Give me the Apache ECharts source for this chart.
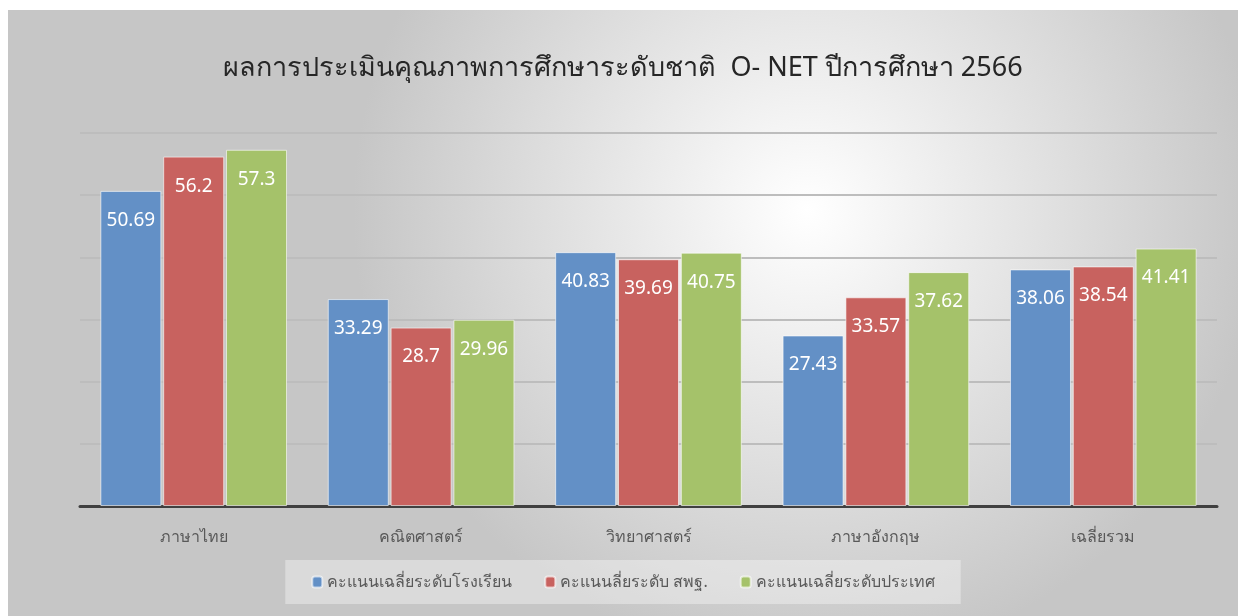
<!DOCTYPE html>
<html>
<head>
<meta charset="utf-8">
<script src="https://cdn.jsdelivr.net/npm/echarts@6/dist/echarts.min.js"></script>
<style>
  html, body { margin: 0; padding: 0; background: #ffffff; }
  #chart { position: absolute; left: 8px; top: 10px; width: 1230px; height: 606px; }
</style>
</head>
<body>
<div id="chart"></div>
<script>
var categories = ["ภาษาไทย", "คณิตศาสตร์", "วิทยาศาสตร์", "ภาษาอังกฤษ", "เฉลี่ยรวม"];
var seriesNames = ["คะแนนเฉลี่ยระดับโรงเรียน", "คะแนนลี่ยระดับ สพฐ.", "คะแนนเฉลี่ยระดับประเทศ"];
var schoolScores = [50.69, 33.29, 40.83, 27.43, 38.06];
var obecScores = [56.2, 28.7, 39.69, 33.57, 38.54];
var nationScores = [57.3, 29.96, 40.75, 37.62, 41.41];
var barColors = ["#6390c6", "#c8625f", "#a5c26a"];

var font = "'Noto Sans', 'DejaVu Sans', sans-serif";
var chart = echarts.init(document.getElementById("chart"));

function makeSeries(name, data, color) {
  return {
    name: name,
    type: "bar",
    data: data,
    barWidth: 61,
    barGap: "3%",
    itemStyle: { color: color, borderColor: "rgba(255,255,255,0.6)", borderWidth: 1 },
    label: {
      show: true,
      position: "insideTop",
      distance: 20,
      color: "#ffffff",
      fontSize: 19,
      fontFamily: font
    }
  };
}

var option = {
  backgroundColor: {
    type: "radial", x: 0.65, y: 0.33, r: 0.75,
    colorStops: [
      { offset: 0, color: "#ffffff" },
      { offset: 1, color: "#c6c6c6" }
    ]
  },
  title: {
    text: "ผลการประเมินคุณภาพการศึกษาระดับชาติ  O- NET ปีการศึกษา 2566",
    left: "center",
    top: 40,
    textStyle: { fontSize: 27, fontWeight: "normal", color: "#262626", fontFamily: font }
  },
  legend: {
    data: seriesNames,
    left: "center",
    top: 550,
    backgroundColor: "rgba(255,255,255,0.35)",
    padding: [14, 26],
    itemGap: 32,
    itemWidth: 10,
    itemHeight: 11,
    textStyle: { fontSize: 16, color: "#595959", fontFamily: font }
  },
  grid: { left: 72, right: 21, top: 123, bottom: 110 },
  xAxis: {
    type: "category",
    data: categories,
    axisLine: { lineStyle: { color: "#404040", width: 3 } },
    axisTick: { show: false },
    axisLabel: { fontSize: 16, color: "#595959", margin: 23, fontFamily: font }
  },
  yAxis: {
    type: "value",
    min: 0,
    max: 60,
    interval: 10,
    axisLabel: { show: false },
    axisLine: { show: false },
    axisTick: { show: false },
    splitLine: { lineStyle: { color: "#bdbdbd", width: 2 } }
  },
  series: [
    makeSeries(seriesNames[0], schoolScores, barColors[0]),
    makeSeries(seriesNames[1], obecScores, barColors[1]),
    makeSeries(seriesNames[2], nationScores, barColors[2])
  ]
};
chart.setOption(option);
</script>
</body>
</html>
